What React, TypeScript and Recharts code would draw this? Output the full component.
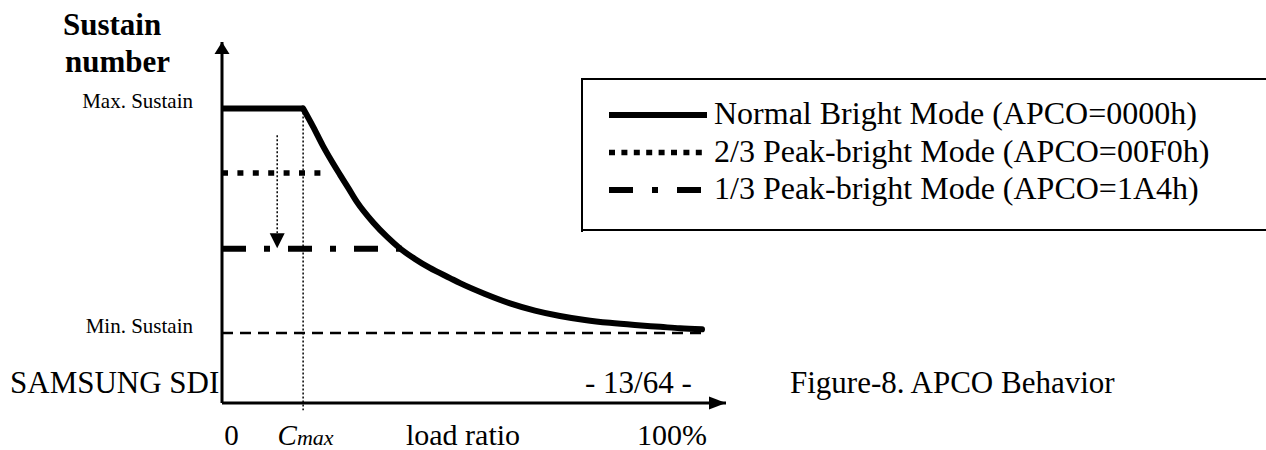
import React from "react";
import {
  LineChart,
  Line,
  XAxis,
  YAxis,
  ReferenceLine,
  ReferenceDot,
  Legend,
} from "recharts";

// load ratio (%) vs sustain number (arbitrary units, 0..100)
const maxLoad = [0, 16.9];
const curveLoad = [
  16.9, 19.0, 21.0, 22.9, 24.6, 26.3, 28.1, 31.5, 34.4, 37.1, 40.2, 43.3,
  47.5, 49.6, 54.8, 60.0, 65.2, 70.4, 75.6, 80.8, 86.0, 91.3, 95.4, 100,
];
const curveSustain = [
  81.6, 76.5, 71.3, 66.9, 63.2, 59.6, 55.7, 50.0, 46.0, 42.8, 39.9, 37.4,
  34.6, 33.2, 30.2, 27.6, 25.6, 24.1, 23.0, 22.2, 21.6, 21.1, 20.7, 20.4,
];
const peak23Load = [0, 21.5];
const peak23Sustain = [63.7, 63.7];
const peak13Load = [0, 37.7];
const peak13Sustain = [42.7, 42.7];

const maxSustain = 81.6;
const minSustain = 19.4;
const minSustainEnd = 100;
const cMax = 16.9;
const arrowLoad = 11.5;
const arrowFrom = 74.2;
const arrowTo = 42.9;

const yTicks = [minSustain, maxSustain];
const yTickLabels = ["Min. Sustain", "Max. Sustain"];
const xTicks = [0, cMax, 50, 100];
const xTickLabels = ["0", "Cmax", "load ratio", "100%"];

const seriesNames = [
  "Normal Bright Mode (APCO=0000h)",
  "2/3 Peak-bright Mode (APCO=00F0h)",
  "1/3 Peak-bright Mode (APCO=1A4h)",
];

const toRows = (xs: number[], ys: number[]) =>
  xs.map((load, i) => ({ load, sustain: ys[i] }));

const maxData = toRows(maxLoad, [maxSustain, maxSustain]);
const curveData = toRows(curveLoad, curveSustain);
const peak23Data = toRows(peak23Load, peak23Sustain);
const peak13Data = toRows(peak13Load, peak13Sustain);

const FONT = '"Liberation Serif", "Times New Roman", serif';

const YTick = (props: any) => {
  const { x, y, index } = props;
  return (
    <text x={x - 29} y={y} textAnchor="end" fontFamily={FONT} fontSize={21} fill="#000">
      {yTickLabels[index]}
    </text>
  );
};

const xTickDx = [9.5, 2.5, 1, -30];

const XTick = (props: any) => {
  const { x, index } = props;
  const ty = 445;
  if (index === 1) {
    return (
      <text x={x + xTickDx[index]} y={ty} textAnchor="middle" fontFamily={FONT} fontStyle="italic" fill="#000">
        <tspan fontSize={29}>C</tspan>
        <tspan fontSize={22}>max</tspan>
      </text>
    );
  }
  return (
    <text x={x + xTickDx[index]} y={ty} textAnchor="middle" fontFamily={FONT} fontSize={index === 0 ? 29 : 30} fill="#000">
      {xTickLabels[index]}
    </text>
  );
};

const legendStyles = [
  { dash: undefined, width: 6 },
  { dash: "6 6.4", width: 5.5 },
  { dash: "24 19 6 19", width: 6 },
];

const LegendBox = () => (
  <svg width={685} height={154} style={{ display: "block" }}>
    <line x1={0} y1={1} x2={685} y2={1} stroke="#000" strokeWidth={2} />
    <line x1={1} y1={0} x2={1} y2={154} stroke="#000" strokeWidth={2} />
    <line x1={0} y1={152} x2={685} y2={152} stroke="#000" strokeWidth={2} />
    {seriesNames.map((name, i) => {
      const cy = 37 + i * 37.5;
      return (
        <g key={name}>
          <line
            x1={28}
            y1={cy}
            x2={126}
            y2={cy}
            stroke="#000"
            strokeWidth={legendStyles[i].width}
            strokeDasharray={legendStyles[i].dash}
          />
          <text x={133} y={cy + 9} fontFamily={FONT} fontSize={32} fill="#000">
            {name}
          </text>
        </g>
      );
    })}
  </svg>
);

const upArrow = (p: any) => (
  <path d={`M${p.cx},${p.cy} L${p.cx - 7.5},${p.cy + 12} L${p.cx + 7.5},${p.cy + 12} Z`} fill="#000" />
);
const rightArrow = (p: any) => (
  <path d={`M${p.cx},${p.cy} L${p.cx - 17},${p.cy - 6.5} L${p.cx - 17},${p.cy + 6.5} Z`} fill="#000" />
);
const downArrow = (p: any) => (
  <path d={`M${p.cx},${p.cy} L${p.cx - 7.5},${p.cy - 15} L${p.cx + 7.5},${p.cy - 15} Z`} fill="#000" />
);

const lineCommon = {
  dataKey: "sustain",
  stroke: "#000",
  dot: false,
  activeDot: false,
  isAnimationActive: false,
  legendType: "none" as const,
};

export default function App() {
  return (
    <div style={{ position: "absolute", left: 0, top: 0, width: 1266, height: 450, background: "#fff" }}>
      <LineChart width={1266} height={450} margin={{ top: 42, right: 540, bottom: 46, left: 221 }}>
        <XAxis
          type="number"
          dataKey="load"
          domain={[0, 105]}
          ticks={xTicks}
          interval={0}
          height={1}
          tickLine={false}
          tickSize={0}
          tickMargin={0}
          axisLine={{ stroke: "#000", strokeWidth: 3 }}
          tick={<XTick />}
        />
        <YAxis
          type="number"
          domain={[0, 100]}
          ticks={yTicks}
          interval={0}
          width={1}
          tickLine={false}
          tickSize={0}
          tickMargin={0}
          axisLine={{ stroke: "#000", strokeWidth: 3 }}
          tick={<YTick />}
        />
        <Legend
          layout="horizontal"
          verticalAlign="middle"
          align="center"
          content={() => <LegendBox />}
          wrapperStyle={{ left: 581, top: 78, width: 685, height: 154 }}
        />
        <ReferenceLine
          segment={[{ x: 0, y: minSustain }, { x: minSustainEnd, y: minSustain }]}
          stroke="#000"
          strokeWidth={2.5}
          strokeDasharray="11 7"
          ifOverflow="visible"
        />
        <ReferenceLine
          segment={[{ x: cMax, y: maxSustain }, { x: cMax, y: -2 }]}
          stroke="#000"
          strokeWidth={1.5}
          strokeDasharray="2 2"
          ifOverflow="visible"
        />
        <ReferenceLine
          segment={[{ x: arrowLoad, y: arrowFrom }, { x: arrowLoad, y: arrowTo + 4.2 }]}
          stroke="#000"
          strokeWidth={1.5}
          strokeDasharray="2 2"
          ifOverflow="visible"
        />
        <ReferenceDot x={arrowLoad} y={arrowTo} r={1} shape={downArrow} ifOverflow="visible" />
        <Line
          {...lineCommon}
          data={peak23Data}
          name={seriesNames[1]}
          type="linear"
          strokeWidth={5.5}
          strokeDasharray="6 9.4"
        />
        <Line
          {...lineCommon}
          data={peak13Data}
          name={seriesNames[2]}
          type="linear"
          strokeWidth={6}
          strokeDasharray="24 18 6 18"
        />
        <Line {...lineCommon} data={maxData} name={seriesNames[0]} type="linear" strokeWidth={6} />
        <Line
          {...lineCommon}
          data={curveData}
          name={seriesNames[0]}
          type="monotone"
          strokeWidth={6}
          strokeLinecap="round"
        />
        <ReferenceDot x={0} y={100} r={1} shape={upArrow} ifOverflow="visible" />
        <ReferenceDot x={105} y={0} r={1} shape={rightArrow} ifOverflow="visible" />
      </LineChart>
      <svg
        width={1266}
        height={450}
        style={{ position: "absolute", left: 0, top: 0, pointerEvents: "none" }}
      >
        <text x={63} y={35} fontFamily={FONT} fontSize={31} fontWeight="bold" fill="#000">
          Sustain
        </text>
        <text x={65} y={72} fontFamily={FONT} fontSize={31} fontWeight="bold" fill="#000">
          number
        </text>
        <text x={10} y={393} fontFamily={FONT} fontSize={31} fill="#000">
          SAMSUNG SDI
        </text>
        <text x={585} y={393} fontFamily={FONT} fontSize={31} fill="#000">
          - 13/64 -
        </text>
        <text x={790} y={393} fontFamily={FONT} fontSize={31} fill="#000">
          Figure-8. APCO Behavior
        </text>
      </svg>
    </div>
  );
}
